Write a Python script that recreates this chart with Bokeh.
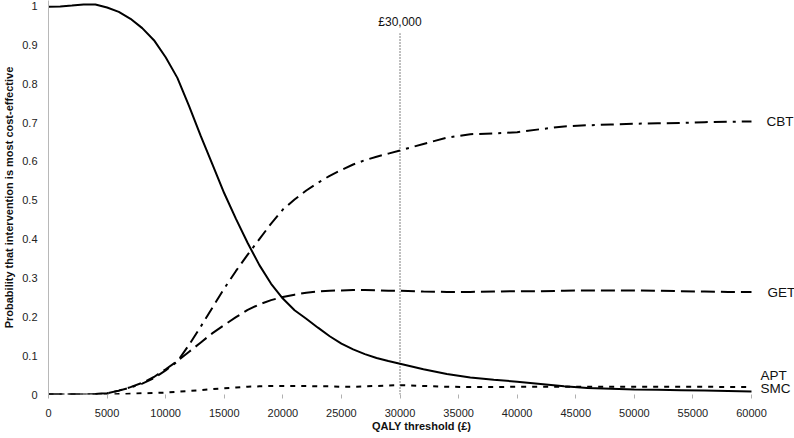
from bokeh.plotting import figure
from bokeh.models import Range1d, FixedTicker, Label
from bokeh.embed import file_html
from bokeh.resources import INLINE

# ---- data ----
thresholds = list(range(0, 31000, 1000)) + list(range(32000, 62000, 2000))

smc = [0.998, 0.999, 1.001, 1.004, 1.004, 0.996, 0.985, 0.967, 0.943, 0.912,
       0.868, 0.815, 0.742, 0.665, 0.592, 0.518, 0.452, 0.390, 0.333, 0.285,
       0.247, 0.217, 0.195, 0.172, 0.150, 0.131, 0.116, 0.104, 0.094, 0.086,
       0.079,
       0.065, 0.053, 0.044, 0.038, 0.033, 0.027, 0.021, 0.017, 0.015, 0.013,
       0.012, 0.011, 0.010, 0.009, 0.008]

cbt = [0, 0, 0, 0, 0.001, 0.003, 0.010, 0.018, 0.028, 0.042,
       0.062, 0.085, 0.128, 0.175, 0.224, 0.273, 0.318, 0.360, 0.400, 0.440,
       0.476, 0.502, 0.525, 0.545, 0.563, 0.578, 0.592, 0.603, 0.612, 0.620,
       0.628,
       0.645, 0.661, 0.670, 0.672, 0.675, 0.683, 0.690, 0.693, 0.695, 0.697,
       0.698, 0.699, 0.701, 0.702, 0.703]

get = [0, 0, 0, 0, 0.001, 0.003, 0.010, 0.019, 0.030, 0.045,
       0.065, 0.086, 0.110, 0.134, 0.158, 0.179, 0.199, 0.218, 0.232, 0.243,
       0.251, 0.257, 0.262, 0.265, 0.267, 0.268, 0.269, 0.269, 0.268, 0.267,
       0.267,
       0.265, 0.264, 0.264, 0.265, 0.266, 0.266, 0.267, 0.268, 0.268, 0.268,
       0.267, 0.266, 0.265, 0.264, 0.264]

apt = [0, 0, 0, 0, 0, 0, 0.001, 0.002, 0.003, 0.004,
       0.005, 0.007, 0.009, 0.011, 0.014, 0.016, 0.018, 0.020, 0.021, 0.022,
       0.022, 0.022, 0.022, 0.021, 0.021, 0.020, 0.020, 0.021, 0.022, 0.023,
       0.024,
       0.022, 0.020, 0.019, 0.019, 0.020, 0.020, 0.020, 0.020, 0.020, 0.020,
       0.020, 0.020, 0.020, 0.019, 0.019]

series_names = ["CBT", "GET", "APT", "SMC"]
label_y = [0.703, 0.263, 0.048, 0.016]
label_x = [61280, 61370, 60770, 60770]

threshold_line_x = 30000
threshold_line_top = 0.929
threshold_text = "£30,000"
threshold_text_y = 0.96

x_ticks = list(range(0, 65000, 5000))
x_tick_labels = [str(v) for v in x_ticks]
y_ticks = [0, 0.1, 0.2, 0.3, 0.4, 0.5, 0.6, 0.7, 0.8, 0.9, 1.0]
y_tick_labels = ["0", "0.1", "0.2", "0.3", "0.4", "0.5", "0.6", "0.7", "0.8", "0.9", "1"]

FONT = "Liberation Sans"

W, H = 794, 438
LEFT, BOTTOM = 48, 44
# 0..60000 spans 703px; extend range to right edge so labels sit in the frame
x_end = 60000 * (W - LEFT) / 703.0
# y = 1 sits ~5px below the top, y = 0 at the frame bottom
y_end = (H - BOTTOM) / 388.5

p = figure(width=W, height=H, output_backend="svg", toolbar_location=None,
           x_range=Range1d(0, x_end), y_range=Range1d(0, y_end),
           min_border_left=LEFT, min_border_right=0, min_border_top=0,
           min_border_bottom=BOTTOM)
p.outline_line_color = None
p.xgrid.visible = False
p.ygrid.visible = False
p.background_fill_color = "white"
p.border_fill_color = "white"

# x axis
p.xaxis.ticker = FixedTicker(ticks=x_ticks)
p.xaxis.major_label_overrides = {v: l for v, l in zip(x_ticks, x_tick_labels)}
p.xaxis.axis_line_color = None
p.xaxis.major_tick_line_color = "#b0b0b0"
p.xaxis.major_tick_in = 0
p.xaxis.major_tick_out = 4
p.xaxis.minor_tick_line_color = None
p.xaxis.major_label_standoff = 10
p.xaxis.major_label_text_font = FONT
p.xaxis.major_label_text_font_size = "11px"
p.xaxis.major_label_text_color = "#222222"
p.xaxis.axis_label = "QALY threshold (£)"
p.xaxis.axis_label_text_font = FONT
p.xaxis.axis_label_text_font_size = "11px"
p.xaxis.axis_label_text_font_style = "bold"
p.xaxis.axis_label_text_color = "#111111"
p.xaxis.axis_label_standoff = 0

# y axis
p.yaxis.ticker = FixedTicker(ticks=y_ticks)
p.yaxis.major_label_overrides = {v: l for v, l in zip(y_ticks, y_tick_labels)}
p.yaxis.axis_line_color = "#b8b8b8"
p.yaxis.major_tick_line_color = None
p.yaxis.minor_tick_line_color = None
p.yaxis.major_tick_in = 0
p.yaxis.major_tick_out = 0
p.yaxis.major_label_standoff = 11
p.yaxis.major_label_text_font = FONT
p.yaxis.major_label_text_font_size = "11px"
p.yaxis.major_label_text_color = "#222222"
p.yaxis.axis_label = "Probability that intervention is most cost-effective"
p.yaxis.axis_label_text_font = FONT
p.yaxis.axis_label_text_font_size = "11px"
p.yaxis.axis_label_text_font_style = "bold"
p.yaxis.axis_label_text_color = "#111111"
p.yaxis.axis_label_standoff = 4

# curves
p.line(thresholds, apt, line_color="black", line_width=2, line_dash="5 6")
p.line(thresholds, get, line_color="black", line_width=2, line_dash="14 6")
p.line(thresholds, cbt, line_color="black", line_width=2, line_dash="13 6 13 6 3 6")
p.line(thresholds, smc, line_color="black", line_width=2)

# threshold line
p.line([threshold_line_x, threshold_line_x], [0, threshold_line_top],
       line_color="black", line_width=1, line_dash="1 2")
p.add_layout(Label(x=threshold_line_x, y=threshold_text_y, text=threshold_text,
                   text_align="center", text_baseline="middle",
                   text_font=FONT, text_font_size="12px", text_color="#111111"))

for name, lx, ly in zip(series_names, label_x, label_y):
    p.add_layout(Label(x=lx, y=ly, text=name, text_align="left",
                       text_baseline="middle", text_font=FONT,
                       text_font_size="13.5px", text_color="#111111"))

open("out.html", "w").write(file_html(p, INLINE))
